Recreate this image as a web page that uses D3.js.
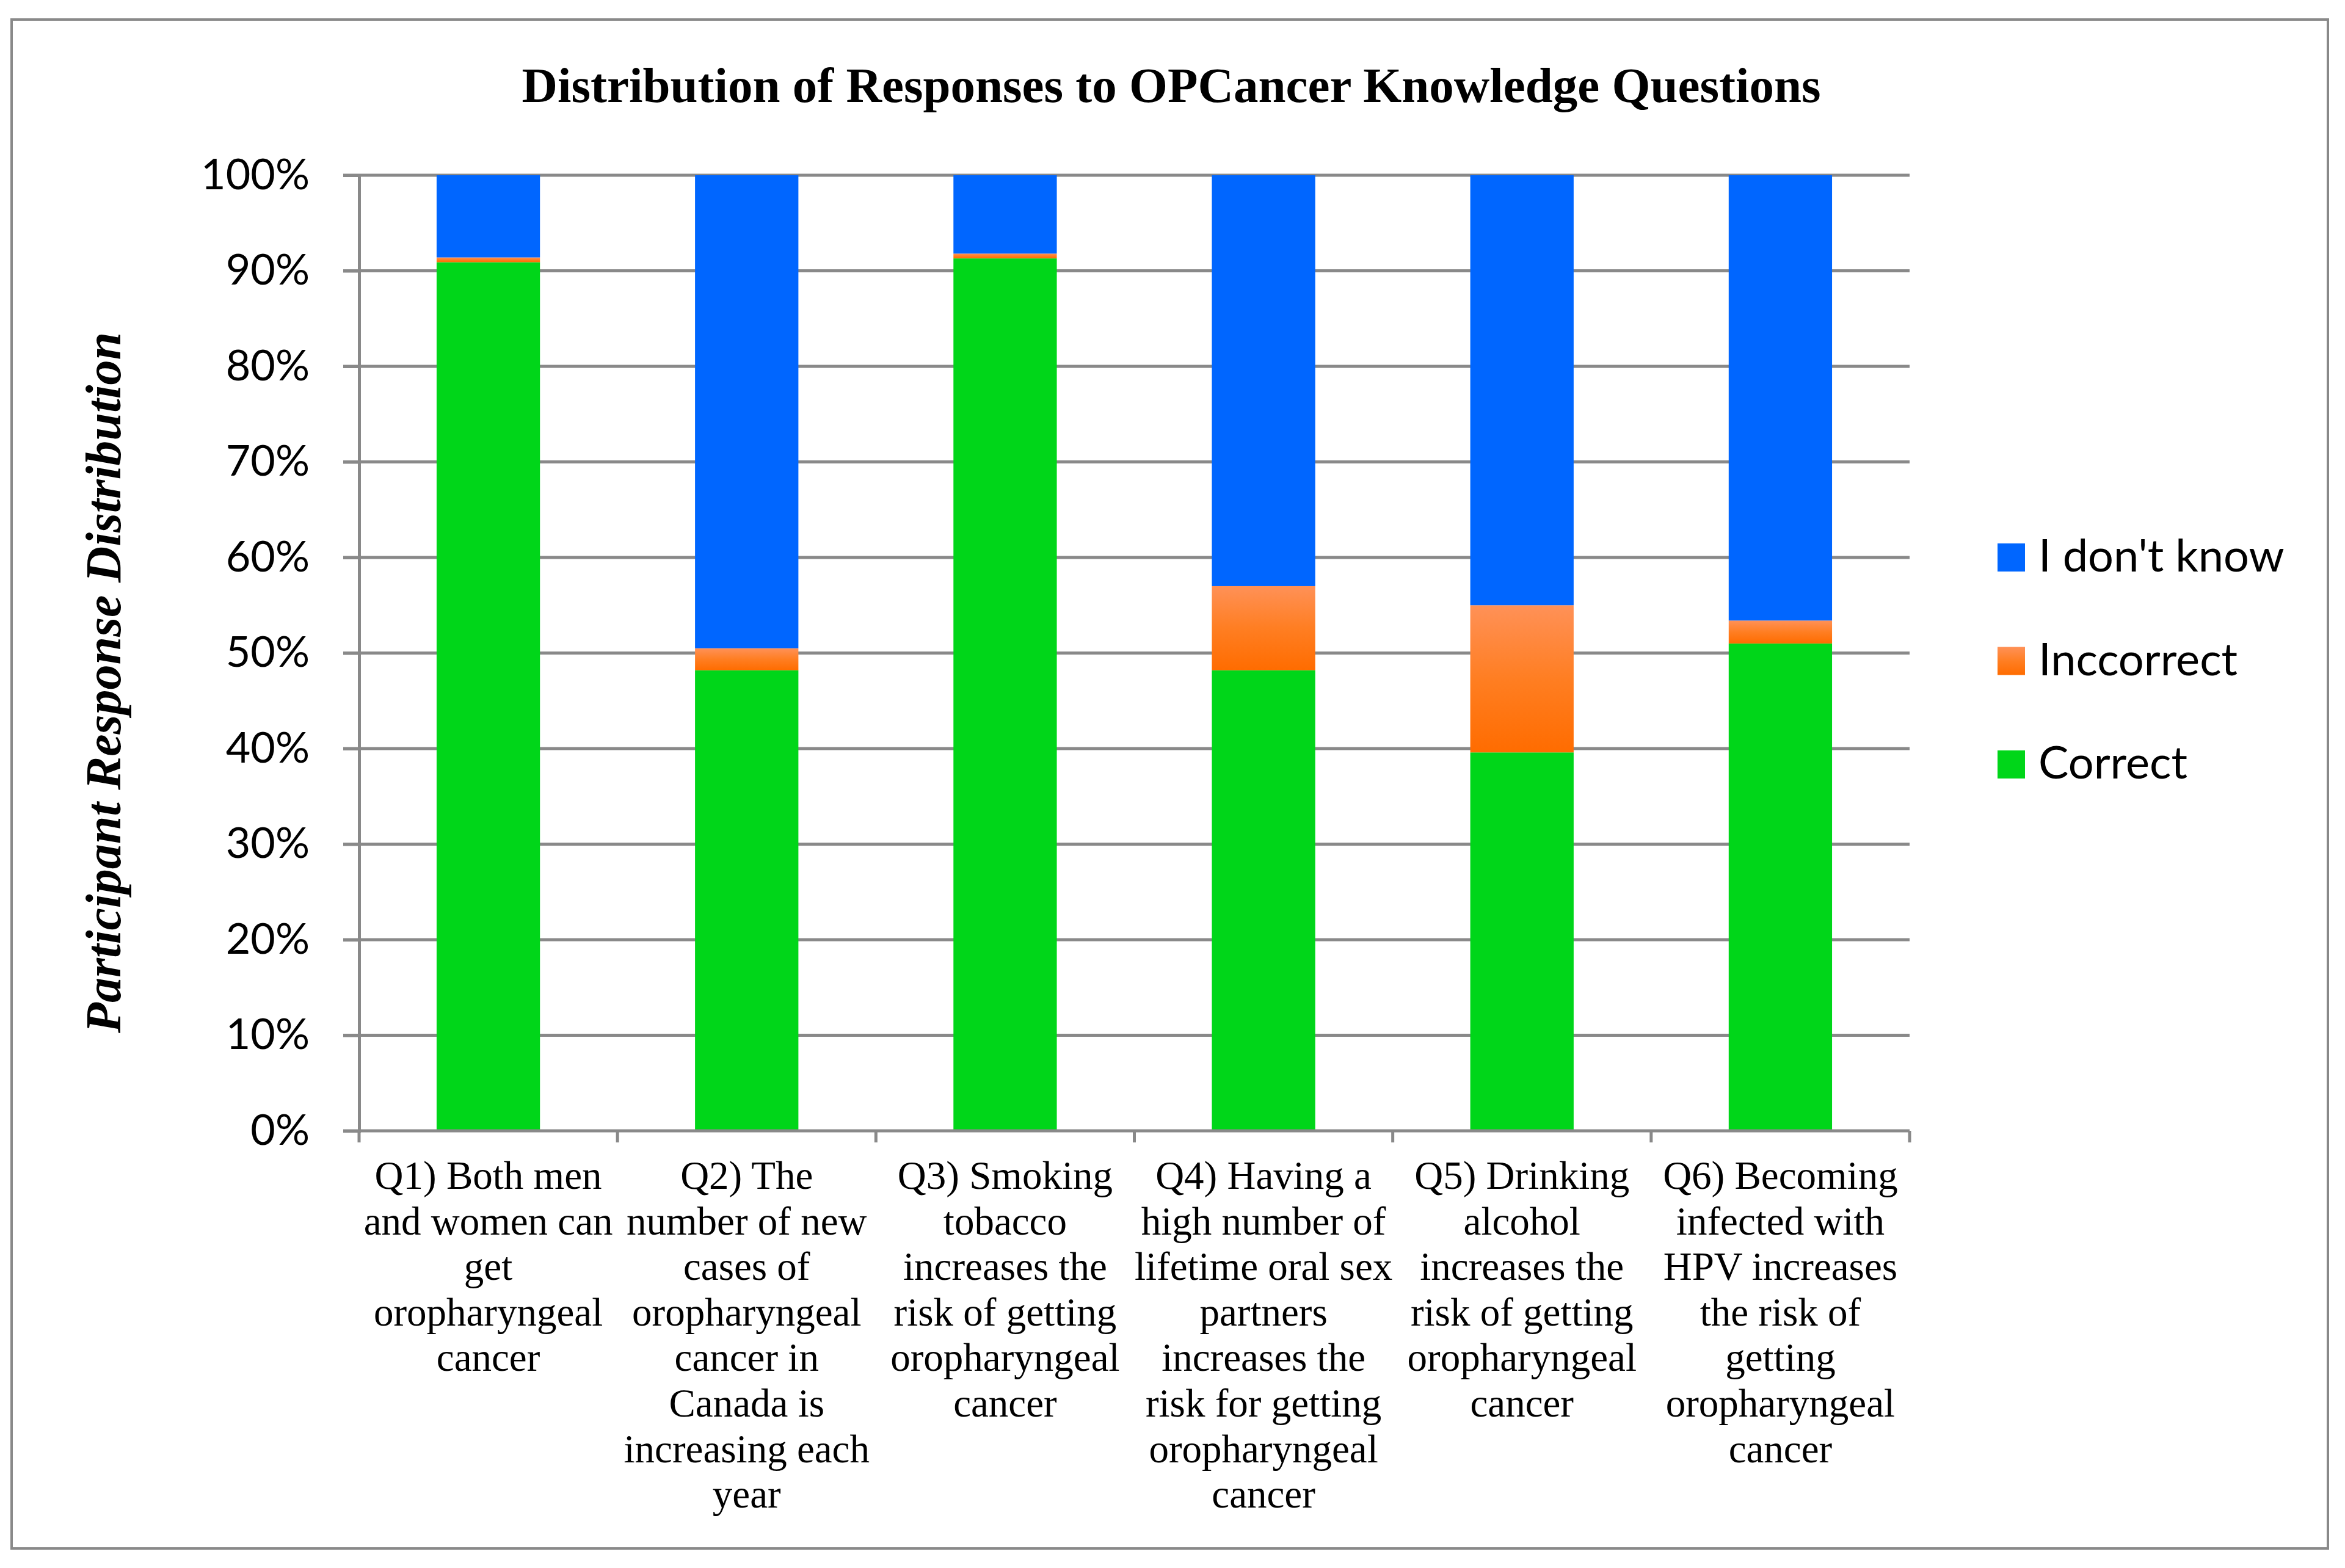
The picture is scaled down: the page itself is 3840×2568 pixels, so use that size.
<!DOCTYPE html>
<html>
<head>
<meta charset="utf-8">
<script src="https://cdn.jsdelivr.net/npm/d3@7/dist/d3.min.js"></script>
<style>
  html, body { margin: 0; padding: 0; background: #fff; }
  svg { display: block; }
</style>
</head>
<body>
<svg id="chart" width="3840" height="2568"></svg>
<script>
// ---- data ----
const categories = ["Q1", "Q2", "Q3", "Q4", "Q5", "Q6"];
const categoryLabels = [
  ["Q1) Both men", "and women can", "get", "oropharyngeal", "cancer"],
  ["Q2) The", "number of new", "cases of", "oropharyngeal", "cancer in", "Canada is", "increasing each", "year"],
  ["Q3) Smoking", "tobacco", "increases the", "risk of getting", "oropharyngeal", "cancer"],
  ["Q4) Having a", "high number of", "lifetime oral sex", "partners", "increases the", "risk for getting", "oropharyngeal", "cancer"],
  ["Q5) Drinking", "alcohol", "increases the", "risk of getting", "oropharyngeal", "cancer"],
  ["Q6) Becoming", "infected with", "HPV increases", "the risk of", "getting", "oropharyngeal", "cancer"]
];
const seriesNames = ["Correct", "Inccorrect", "I don't know"];
const correct   = [90.9, 48.2, 91.3, 48.2, 39.6, 51.0];
const incorrect = [0.5, 2.3, 0.5, 8.8, 15.4, 2.4];
const dontKnow  = [8.6, 49.5, 8.2, 43.0, 45.0, 46.6];
const yTicks = [0, 10, 20, 30, 40, 50, 60, 70, 80, 90, 100];
const titleText = "Distribution of Responses to OPCancer Knowledge Questions";
const yAxisTitle = "Participant Response Distribution";

// ---- layout ----
const svg = d3.select("#chart");
const W = 3840, H = 2568;
const plotL = 588, plotR = 3127, plotT = 287, plotB = 1852;
const gridColor = "#898989";

svg.append("rect").attr("width", W).attr("height", H).attr("fill", "#fff");
svg.append("rect").attr("x", 19).attr("y", 32).attr("width", 3793).attr("height", 2504)
  .attr("fill", "none").attr("stroke", gridColor).attr("stroke-width", 4);

const defs = svg.append("defs");
const grad = defs.append("linearGradient").attr("id", "orangeGrad")
  .attr("x1", 0).attr("y1", 0).attr("x2", 0).attr("y2", 1);
grad.append("stop").attr("offset", "0%").attr("stop-color", "#FF9157");
grad.append("stop").attr("offset", "50%").attr("stop-color", "#FF7E22");
grad.append("stop").attr("offset", "100%").attr("stop-color", "#FF6C00");

const colors = {"Correct": "#00D619", "Inccorrect": "url(#orangeGrad)", "I don't know": "#0066FF"};

const x = d3.scaleBand().domain(categories).range([plotL, plotR])
  .paddingInner(0.6).paddingOuter(0.3);
const y = d3.scaleLinear().domain([0, 100]).range([plotB, plotT]);

// gridlines
svg.append("g").selectAll("line").data(yTicks.filter(d => d > 0)).join("line")
  .attr("x1", plotL - 26).attr("x2", plotR)
  .attr("y1", d => y(d)).attr("y2", d => y(d))
  .attr("stroke", gridColor).attr("stroke-width", 5);

// y axis
const yAxis = d3.axisLeft(y).tickValues(yTicks).tickSize(26).tickPadding(55)
  .tickFormat(d => d + "%");
const gy = svg.append("g").attr("transform", `translate(${plotL},0)`).call(yAxis);
gy.select(".domain").attr("stroke", gridColor).attr("stroke-width", 5);
gy.selectAll(".tick line").attr("stroke", gridColor).attr("stroke-width", 5);
gy.selectAll(".tick text").attr("font-family", "Lato, sans-serif").attr("font-size", 70)
  .attr("fill", "#000");

// stacked bars
const rows = categories.map((c, i) => ({cat: c, "Correct": correct[i], "Inccorrect": incorrect[i], "I don't know": dontKnow[i]}));
const stack = d3.stack().keys(seriesNames)(rows);
svg.append("g").selectAll("g").data(stack).join("g")
  .attr("fill", d => colors[d.key])
  .selectAll("rect").data(d => d).join("rect")
  .attr("x", d => x(d.data.cat))
  .attr("width", x.bandwidth())
  .attr("y", d => y(d[1]))
  .attr("height", d => y(d[0]) - y(d[1]));

// x axis
const step = x.step();
const boundaries = d3.range(categories.length + 1).map(i => plotL + i * step);
svg.append("line").attr("x1", plotL - 26).attr("x2", plotR).attr("y1", plotB).attr("y2", plotB)
  .attr("stroke", gridColor).attr("stroke-width", 5);
svg.append("g").selectAll("line").data(boundaries).join("line")
  .attr("x1", d => d).attr("x2", d => d).attr("y1", plotB).attr("y2", plotB + 19)
  .attr("stroke", gridColor).attr("stroke-width", 5);

// category labels
const lab = svg.append("g").attr("font-family", "'Liberation Serif', 'Times New Roman', serif")
  .attr("font-size", 65).attr("text-anchor", "middle").attr("fill", "#000");
categories.forEach((c, i) => {
  const cx = x(c) + x.bandwidth() / 2;
  const t = lab.append("text").attr("x", cx).attr("y", 1947);
  categoryLabels[i].forEach((line, j) => {
    t.append("tspan").attr("x", cx).attr("dy", j === 0 ? 0 : 74.6).text(line);
  });
});

// title
svg.append("text").attr("x", 1918).attr("y", 167).attr("text-anchor", "middle")
  .attr("font-family", "'Liberation Serif', 'Times New Roman', serif")
  .attr("font-weight", "bold").attr("font-size", 81).text(titleText);

// y axis title
svg.append("text").attr("transform", "translate(197,1118) rotate(-90)")
  .attr("text-anchor", "middle")
  .attr("font-family", "'Liberation Serif', 'Times New Roman', serif")
  .attr("font-weight", "bold").attr("font-style", "italic").attr("font-size", 82)
  .text(yAxisTitle);

// legend
const legendOrder = seriesNames.slice().reverse();
const lg = svg.append("g");
legendOrder.forEach((name, i) => {
  const top = 890 + i * 169.5;
  lg.append("rect").attr("x", 3271).attr("y", top).attr("width", 45).attr("height", 46)
    .attr("fill", colors[name]);
  lg.append("text").attr("x", 3338).attr("y", top + 46)
    .attr("font-family", "Lato, sans-serif").attr("font-size", 74).attr("fill", "#000")
    .text(name);
});
</script>
</body>
</html>
